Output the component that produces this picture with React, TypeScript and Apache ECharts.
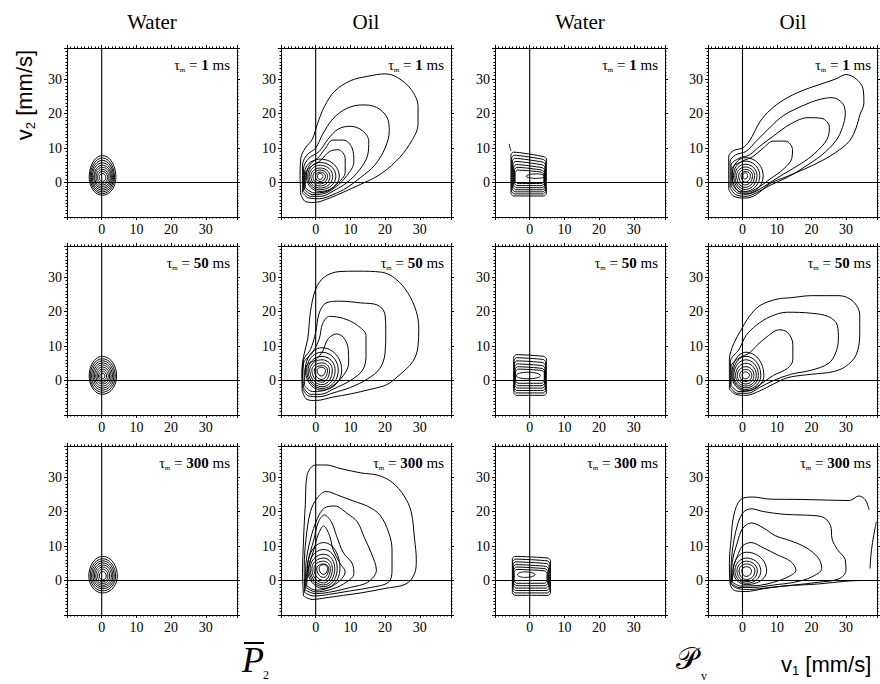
import React, { useEffect, useRef } from 'react';
import * as echarts from 'echarts';

type Pt = [number, number];
// ring: [cx, cy, xmin, xmax, ymin, ymax]
type Ring = [number, number, number, number, number, number];
// box: [xLeft, xRight, yBottom, yTopLeft, yTopRight]
type Box = [number, number, number, number, number];

const columnTitles = ['Water', 'Oil', 'Water', 'Oil'];
const mixingTimes = ['1', '50', '300'];
const tickValues = [0, 10, 20, 30];
const axisMin = -10;
const axisMax = 39;

// ---------- column 1 : water, P2 ----------
const waterP2Rings1: Ring[] = [
  [0.2, 1.5, -3.6, 4.1, -3.7, 7.8], [0.2, 1.5, -3.3, 3.7, -3.2, 7.1], [0.2, 1.5, -3.0, 3.4, -2.7, 6.4],
  [0.2, 1.5, -2.7, 3.1, -2.2, 5.7], [0.2, 1.5, -2.3, 2.8, -1.7, 5.0], [0.2, 1.5, -2.0, 2.5, -1.2, 4.4],
  [0.2, 1.5, -1.6, 2.1, -0.7, 3.8], [0.2, 1.5, -1.2, 1.7, -0.2, 3.2], [0.2, 1.4, -0.7, 1.2, 0.3, 2.6],
];
const waterP2Rings50: Ring[] = [
  [0.2, 1.3, -3.6, 4.3, -4.0, 7.0], [0.2, 1.3, -3.3, 3.9, -3.4, 6.3], [0.2, 1.3, -2.9, 3.5, -2.8, 5.7],
  [0.2, 1.3, -2.5, 3.1, -2.2, 5.1], [0.2, 1.3, -2.1, 2.7, -1.6, 4.5], [0.2, 1.3, -1.7, 2.3, -1.0, 3.9],
  [0.2, 1.3, -1.3, 1.9, -0.5, 3.3], [0.2, 1.3, -0.9, 1.4, 0.0, 2.7], [0.2, 1.3, -0.5, 0.9, 0.5, 2.1],
];
const waterP2Rings300: Ring[] = [
  [0.3, 1.3, -3.7, 4.5, -3.6, 7.0], [0.3, 1.3, -3.3, 4.0, -3.0, 6.3], [0.3, 1.3, -2.9, 3.6, -2.4, 5.7],
  [0.3, 1.3, -2.5, 3.2, -1.9, 5.1], [0.3, 1.3, -2.1, 2.8, -1.4, 4.5], [0.3, 1.3, -1.7, 2.3, -0.9, 3.9],
  [0.3, 1.3, -1.2, 1.8, -0.4, 3.3], [0.3, 1.3, -0.7, 1.3, 0.2, 2.6],
];

// ---------- column 2 : oil, P2 ----------
const oilP2Contours1: Pt[][] = [
  [[-4.3, -3.5], [-3, -5.5], [-0.5, -5.8], [4, -4.5], [8, -2.8], [13, -0.5], [18, 2], [23, 6], [27, 11], [29.5, 17], [29.5, 22], [27.5, 27], [23.5, 30.5], [20, 31.5], [15, 30.8], [10, 29.5], [5.5, 26.5], [2.5, 22], [0.5, 17], [-1, 12.5], [-3, 10], [-4.3, 7], [-4.5, 2]],
  [[-3.8, -3], [-2, -4.5], [1, -4.7], [5, -3.5], [9, -1.5], [13, 1.5], [17, 5], [20, 10], [21.2, 15], [20.5, 19], [17.5, 21.8], [13.5, 22.5], [9, 21.5], [5, 18.5], [2, 14], [0, 10], [-2.5, 8], [-3.8, 5]],
  [[-3.5, -2.5], [-1.5, -4], [1.5, -4], [5, -2.5], [9, 0], [12.5, 3.5], [15, 8], [15.3, 12], [13.5, 15], [10, 16.3], [6.5, 15.5], [3.5, 12.5], [1, 9], [-2, 7], [-3.5, 4]],
  [[-3.2, -2], [-1, -3.5], [2, -3.3], [5.5, -1.5], [9, 2], [11, 6], [10.5, 10], [8, 12.3], [5, 12.3], [2.5, 9.5], [0.5, 7], [-2, 5.5], [-3.2, 3]],
  [[-3, -1.5], [-0.5, -3], [2.5, -2.8], [6, -0.5], [8.5, 3], [8.5, 7], [6.5, 9.5], [4, 9], [1.5, 6.5], [-1.5, 4.5], [-3, 2.5]],
];
const oilP2Rings1: Ring[] = [
  [1.3, 1.8, -2.7, 6.8, -2.6, 6.8], [1.3, 1.8, -2.3, 5.8, -2.1, 5.8], [1.3, 1.8, -1.9, 4.9, -1.6, 5.0],
  [1.3, 1.8, -1.4, 4.1, -1.0, 4.2], [1.3, 1.8, -0.8, 3.4, -0.4, 3.6], [1.3, 1.8, -0.1, 2.8, 0.3, 3.0],
  [1.2, 1.8, 0.5, 2.1, 0.9, 2.6],
];
const oilP2Contours50: Pt[][] = [
  [[-3.9, -3], [-2.5, -5.5], [0, -5.8], [5, -4.8], [10, -3.9], [16, -2.5], [20.5, -1.2], [24, 1.5], [28, 5.5], [29.5, 10], [29.7, 15], [29, 20], [26.5, 25.5], [23, 29.5], [19, 31.4], [12, 31.7], [7, 31.6], [2.5, 30], [0, 26.5], [-1.5, 20], [-2.3, 12], [-3.5, 7], [-4, 2]],
  [[-3.7, -2.5], [-2, -4.5], [1, -4.7], [5, -3.6], [10, -2], [15, 0.5], [18.5, 3.5], [20, 8], [20.2, 14], [20, 19], [18, 21.8], [13, 22.5], [7, 23], [3, 22.5], [1, 19.5], [0, 14], [-1.5, 9], [-3.5, 6], [-3.8, 2]],
  [[-3.5, -2], [-1.5, -4], [1.5, -4], [5, -2.5], [10, 0], [13.5, 3], [14.5, 7], [14.5, 13], [12, 16], [8, 18], [4, 18.6], [2, 16.5], [1, 12], [-1, 8], [-3.5, 5], [-3.7, 1]],
  [[-3.2, -1.5], [-1, -3.2], [2, -3], [5, -1.5], [8, 1.5], [9.5, 5], [9.4, 9], [8, 12.5], [6, 13.5], [3.5, 12], [2, 8.5], [0, 6], [-2.5, 4.5], [-3.2, 2]],
];
const oilP2Rings50: Ring[] = [
  [1.8, 3, -3.0, 7.5, -2.8, 9.5], [1.8, 3, -2.6, 6.5, -2.3, 8.2], [1.8, 3, -2.2, 5.6, -1.8, 7.0],
  [1.8, 3, -1.7, 4.8, -1.2, 6.0], [1.8, 3, -1.1, 4.0, -0.5, 5.1], [1.8, 3, -0.4, 3.4, 0.3, 4.3],
  [1.7, 3, 0.4, 2.8, 1.3, 3.8],
];
const oilP2Contours300: Pt[][] = [
  [[-3.5, -4.5], [-1, -5.5], [3, -5], [8, -4.3], [13, -3.6], [20, -2.3], [26, -1], [28.5, 2], [29, 6], [28.5, 12], [27.5, 20], [25.5, 24.5], [22, 28.5], [18, 30.5], [13, 31.2], [7, 32.5], [3, 33.5], [0, 33.5], [-2.5, 30.5], [-3, 22], [-3.5, 12], [-3.8, 2]],
  [[-3.2, -3.5], [-0.5, -4.5], [4, -4], [10, -3], [16, -2], [21, -0.5], [22, 3], [22, 9], [21, 14], [18.5, 19], [15, 21.5], [11, 23], [7, 24.5], [3, 25.8], [0.5, 24], [-1.5, 20], [-2.8, 12], [-3.3, 4]],
  [[-3, -2.8], [0, -3.8], [5, -3.2], [10, -2], [15, -0.5], [17.5, 3], [16, 8], [14, 12.5], [12, 17], [9, 19.5], [5.5, 21.6], [2.5, 21], [0.5, 18], [-1.5, 12], [-2.8, 5]],
  [[-2.8, -2], [0, -3.3], [4, -2.7], [8, -1], [11, 2], [10.5, 5], [8, 8], [6, 13], [4.5, 17], [2.5, 19], [0.8, 17], [-0.5, 12], [-2.3, 5]],
  [[-2.6, -1.5], [0, -2.8], [3.5, -2.2], [7, 0], [8.5, 2.5], [7, 5], [5, 9], [4, 13], [2.3, 15.8], [0.8, 13.5], [-0.5, 9], [-2, 4]],
];
const oilP2Rings300: Ring[] = [
  [2.3, 3.5, -2.4, 7.0, -2.3, 11.0], [2.3, 3.5, -2.0, 6.2, -1.8, 9.0], [2.3, 3.5, -1.6, 5.5, -1.3, 7.6],
  [2.3, 3.5, -1.1, 4.8, -0.7, 6.5], [2.3, 3.5, -0.5, 4.2, 0.0, 5.6], [2.3, 3.5, 0.3, 3.7, 0.9, 4.8],
  [2.3, 3.5, 1.0, 3.4, 1.8, 4.6],
];

// ---------- column 3 : water, Pv ----------
const waterPvBoxes1: Box[] = [
  [-5.4, 4.8, -3.9, 8.8, 7.5], [-5.2, 4.6, -3.3, 7.9, 6.7], [-5.0, 4.5, -2.7, 7.0, 5.9],
  [-4.8, 4.4, -2.1, 6.1, 5.1], [-4.6, 4.3, -1.5, 5.2, 4.3], [-4.4, 4.2, -0.9, 4.4, 3.6],
  [-4.2, 4.1, -0.3, 3.6, 3.0],
];
const waterPvRings1: Ring[] = [[2.0, 1.8, -1.0, 4.3, 1.2, 2.5]];
const waterPvHook1: Pt[] = [[-5.9, 11.2], [-5.7, 10.2], [-5.4, 9.2]];
const waterPvBoxes50: Box[] = [
  [-4.6, 4.8, -4.3, 7.5, 7.0], [-4.5, 4.6, -3.6, 6.6, 6.1], [-4.4, 4.5, -2.9, 5.7, 5.2],
  [-4.3, 4.4, -2.2, 4.8, 4.3], [-4.2, 4.3, -1.5, 4.0, 3.5], [-4.1, 4.2, -0.8, 3.3, 2.9],
];
const waterPvRings50: Ring[] = [[-0.5, 1.4, -3.9, 3.1, 0.5, 2.4]];
const waterPvBoxes300: Box[] = [
  [-5.0, 6.0, -4.3, 7.0, 6.5], [-4.9, 5.8, -3.6, 6.2, 5.7], [-4.8, 5.6, -2.9, 5.4, 4.9],
  [-4.7, 5.4, -2.2, 4.6, 4.1], [-4.6, 5.2, -1.5, 3.9, 3.4], [-4.5, 5.0, -0.8, 3.2, 2.8],
];
const waterPvRings300: Ring[] = [[-1.5, 1.7, -3.5, 1.5, 0.9, 2.5]];

// ---------- column 4 : oil, Pv ----------
const oilPvContours1: Pt[][] = [
  [[-4, -2], [-2.5, -4], [1, -4.5], [4, -3.5], [8, -0.3], [13, 1.8], [18, 3.9], [23, 6.3], [27, 8.7], [31, 12], [33, 16], [34, 19.5], [35.2, 23], [35, 27], [33, 30], [30, 31.3], [27, 30], [22, 28.3], [17, 26.5], [12, 24], [8, 21], [5, 17.5], [2, 12], [0, 10], [-2.5, 9.3], [-4, 7.5]],
  [[-3.6, -1.5], [-2, -3.5], [1, -4], [4, -3], [8, -0.8], [13, 1.5], [18, 4.5], [23, 8], [27, 12], [29, 16], [29.8, 20], [29, 23], [26, 24.6], [22, 24], [18, 22.5], [12, 19.5], [8, 16], [4, 12], [1, 9], [-2, 8], [-3.6, 6]],
  [[-3.3, -1], [-1.5, -3], [1, -3.4], [4, -2.5], [8, 0], [12, 2.5], [17, 5.5], [21, 8.5], [24.5, 12.5], [25.2, 16], [23, 18.6], [19, 18.8], [14, 17], [9, 13.5], [5, 10.5], [2, 8], [-1, 7], [-3.3, 5]],
  [[-3, -0.5], [-1, -2.6], [1.5, -2.8], [4.5, -1.5], [8, 1], [12, 4], [14.3, 7], [14.5, 9.5], [12.5, 12], [9, 12], [6, 10], [3, 7.5], [0, 6.2], [-3, 4]],
];
const oilPvRings1: Ring[] = [
  [0.8, 2, -3.0, 6.0, -3.3, 7.2], [0.8, 2, -2.6, 5.0, -2.6, 6.2], [0.8, 2, -2.2, 4.2, -2.0, 5.3],
  [0.8, 2, -1.7, 3.5, -1.4, 4.5], [0.8, 2, -1.1, 2.9, -0.7, 3.8], [0.8, 2, -0.4, 2.3, 0.1, 3.2],
  [0.7, 2, 0.1, 1.5, 1.0, 2.8],
];
const oilPvContours50: Pt[][] = [
  [[-3.8, -2.5], [-2, -4], [1, -4.3], [5, -3], [9, -1], [13, 0.8], [18, 1.6], [22, 2], [26, 2.5], [29.8, 4], [33, 7.5], [34, 14], [34, 19], [32, 23], [28, 24.6], [20, 24.6], [14, 24], [10, 23.6], [5, 21.7], [2, 18.6], [-0.5, 14.5], [-2.5, 10.8], [-3.8, 6]],
  [[-3.5, -2], [-1.5, -3.7], [1.5, -3.7], [5, -2], [9, 0], [14, 1.8], [20, 3], [25, 5], [27, 8], [27.8, 12], [27.5, 16], [25, 18.5], [20, 19.5], [13, 19.8], [8, 18.5], [4, 16], [1, 13], [-1, 9], [-3.5, 5.5]],
  [[-3.3, -1.5], [-1, -3.2], [2, -3], [5, -1.2], [9, 1.5], [13, 3.5], [14.6, 6], [14.6, 10.5], [13, 14], [10.5, 14.7], [7.5, 13], [4.5, 10.5], [2, 8], [-1, 6.5], [-3.3, 4]],
];
const oilPvRings50: Ring[] = [
  [1, 1.5, -3.1, 6.2, -3.0, 8.2], [1, 1.5, -2.8, 5.3, -2.6, 7.0], [1, 1.5, -2.5, 4.6, -2.1, 6.0],
  [1, 1.5, -2.0, 4.0, -1.6, 5.0], [1, 1.5, -1.5, 3.3, -1.0, 4.0], [1, 1.5, -0.8, 2.7, -0.3, 3.2],
  [0.8, 1.5, -0.1, 2.0, 0.5, 2.5],
];
const oilPvOpen300: Pt[][] = [
  [[36.7, 20.5], [35.6, 23.4], [33.7, 24.5], [31, 23.2], [25, 23.3], [17, 23.5], [8, 23.6], [3, 24.2], [-0.5, 23.5], [-2.5, 19], [-3.3, 12], [-3.8, 5], [-3.6, -1], [-2, -3], [1, -3.2], [6, -2.4], [12, -1.6], [22, -1], [30, -0.2], [34, 0]],
  [[37, 3.5], [37.2, 7], [37.7, 11], [38.4, 15], [38.8, 17]],
];
const oilPvContours300: Pt[][] = [
  [[-3.4, -1], [-1.5, -2.3], [2, -2.6], [8, -2], [15, -1.3], [22, -0.5], [28, 0.5], [30, 3], [29.8, 6], [27.5, 9], [26, 12], [25.5, 16], [23, 18.5], [17, 19], [12, 19.2], [6, 20], [2.5, 20.8], [0, 19.5], [-2, 14], [-3.2, 6]],
  [[-3.2, -0.8], [-1, -2], [3, -2], [9, -1.3], [15, -0.5], [20, 1], [23, 3.5], [22, 6.5], [18.5, 9.5], [14, 11.5], [9.5, 13], [6, 15.3], [2.5, 16.7], [0, 15], [-1.5, 11], [-3, 5]],
  [[-2.9, -0.5], [-0.5, -1.6], [4, -1.5], [9, -0.5], [13.5, 1.2], [15.5, 3], [14, 5.5], [10, 7.5], [6, 9.5], [2.5, 11], [0, 10], [-1.5, 7], [-2.7, 3.5]],
];
const oilPvRings300: Ring[] = [
  [1.2, 2.8, -2.7, 7.0, -1.2, 8.2], [1.2, 2.8, -2.2, 5.3, -0.8, 6.5], [1.2, 2.8, -1.6, 4.3, -0.3, 5.6],
  [1.2, 2.8, -1.0, 3.6, 0.3, 4.8], [1.1, 2.8, -0.2, 2.6, 1.2, 4.0],
];

// ---------- layout ----------
const colLeft = [67, 281, 495, 708];
const rowTop = [48, 246, 446];
const PW = 170;
const PH = 169;
const SERIF = "'Liberation Serif', 'Times New Roman', serif";
const SANS = "'Liberation Sans', Arial, sans-serif";

interface Panel {
  closed: Pt[][];
  open: Pt[][];
  rings: Ring[];
  boxes: Box[];
}

const panelGrid: Panel[][] = [
  [
    { closed: [], open: [], rings: waterP2Rings1, boxes: [] },
    { closed: oilP2Contours1, open: [], rings: oilP2Rings1, boxes: [] },
    { closed: [], open: [waterPvHook1], rings: waterPvRings1, boxes: waterPvBoxes1 },
    { closed: oilPvContours1, open: [], rings: oilPvRings1, boxes: [] },
  ],
  [
    { closed: [], open: [], rings: waterP2Rings50, boxes: [] },
    { closed: oilP2Contours50, open: [], rings: oilP2Rings50, boxes: [] },
    { closed: [], open: [], rings: waterPvRings50, boxes: waterPvBoxes50 },
    { closed: oilPvContours50, open: [], rings: oilPvRings50, boxes: [] },
  ],
  [
    { closed: [], open: [], rings: waterP2Rings300, boxes: [] },
    { closed: oilP2Contours300, open: [], rings: oilP2Rings300, boxes: [] },
    { closed: [], open: [], rings: waterPvRings300, boxes: waterPvBoxes300 },
    { closed: oilPvContours300, open: oilPvOpen300, rings: oilPvRings300, boxes: [] },
  ],
];

function ringPoints(r: Ring): Pt[] {
  const [cx, cy, x0, x1, y0, y1] = r;
  const pts: Pt[] = [];
  const n = 48;
  for (let k = 0; k <= n; k++) {
    const a = (k / n) * Math.PI * 2;
    const c = Math.cos(a);
    const s = Math.sin(a);
    pts.push([cx + c * (c >= 0 ? x1 - cx : cx - x0), cy + s * (s >= 0 ? y1 - cy : cy - y0)]);
  }
  return pts;
}

function boxPoints(b: Box): Pt[] {
  const [xl, xr, yb, ytl, ytr] = b;
  const r = 0.7;
  return [
    [xl, yb + r], [xl + r, yb], [xr - r, yb], [xr, yb + r], [xr, ytr - r], [xr - r, ytr],
    [xl + r, ytl], [xl, ytl - r], [xl, yb + r],
  ];
}

function close(p: Pt[]): Pt[] {
  return [...p, p[0]];
}

function buildOption() {
  const grid: any[] = [];
  const xAxis: any[] = [];
  const yAxis: any[] = [];
  const series: any[] = [];
  const graphic: any[] = [];

  const labelFmt = (v: number) => (tickValues.includes(v) ? String(v) : '');
  const tickCommon = {
    axisTick: { show: true, length: 3, lineStyle: { color: '#000', width: 1 } },
    minorTick: { show: true, splitNumber: 10, length: 1.5, lineStyle: { color: '#000', width: 1 } },
    splitLine: { show: false },
    axisLine: { show: true, onZero: false, lineStyle: { color: '#000', width: 1 } },
  };
  const labelStyle = { formatter: labelFmt, fontFamily: SERIF, fontSize: 14, fontWeight: 'normal', color: '#000', margin: 5 };

  let gi = 0;
  for (let r = 0; r < 3; r++) {
    for (let c = 0; c < 4; c++) {
      grid.push({ left: colLeft[c], top: rowTop[r], width: PW, height: PH, containLabel: false });
      xAxis.push({
        gridIndex: gi, type: 'value', position: 'bottom', min: axisMin, max: axisMax, interval: 10,
        ...tickCommon, axisLabel: labelStyle,
      });
      xAxis.push({
        gridIndex: gi, type: 'value', position: 'top', min: axisMin, max: axisMax, interval: 10,
        ...tickCommon, axisLabel: { show: false },
      });
      yAxis.push({
        gridIndex: gi, type: 'value', position: 'left', min: axisMin, max: axisMax, interval: 10,
        ...tickCommon, axisLabel: labelStyle,
      });
      yAxis.push({
        gridIndex: gi, type: 'value', position: 'right', min: axisMin, max: axisMax, interval: 10,
        ...tickCommon, axisLabel: { show: false },
      });

      const base = {
        type: 'line', xAxisIndex: gi * 2, yAxisIndex: gi * 2, showSymbol: false, symbol: 'none',
        silent: true, animation: false,
      };
      // zero cross lines
      series.push({ ...base, data: [[0, axisMin], [0, axisMax]], lineStyle: { color: '#000', width: 1.1 } });
      series.push({ ...base, data: [[axisMin, 0], [axisMax, 0]], lineStyle: { color: '#000', width: 1.1 } });

      const p = panelGrid[r][c];
      p.closed.forEach((pts) =>
        series.push({ ...base, smooth: 0.35, data: close(pts), lineStyle: { color: '#000', width: 1 } })
      );
      p.open.forEach((pts) =>
        series.push({ ...base, smooth: 0.35, data: pts, lineStyle: { color: '#000', width: 1 } })
      );
      p.rings.forEach((rg) =>
        series.push({ ...base, data: ringPoints(rg), lineStyle: { color: '#000', width: 1 } })
      );
      p.boxes.forEach((b) =>
        series.push({ ...base, smooth: 0.2, data: boxPoints(b), lineStyle: { color: '#000', width: 1 } })
      );

      // tau label
      graphic.push({
        type: 'text',
        x: colLeft[c] + PW - 7,
        y: rowTop[r] + 17,
        style: {
          text: `{t|τ}{s|m}{e| = }{b|${mixingTimes[r]}}{e| ms}`,
          align: 'right',
          verticalAlign: 'middle',
          fill: '#000',
          rich: {
            t: { fontFamily: SERIF, fontSize: 14, fill: '#000' },
            s: { fontFamily: SERIF, fontSize: 7, fill: '#000', padding: [10, 0, 0, 0] },
            e: { fontFamily: SERIF, fontSize: 15, fill: '#000' },
            b: { fontFamily: SERIF, fontSize: 15, fontWeight: 'bold', fill: '#000' },
          },
        },
      });
      gi++;
    }
  }

  // carrier grid for the vertical axis title: its axis spans y 50..140, title centred on it
  grid.push({ left: 45, top: 50, width: 1, height: 90, containLabel: false });
  xAxis.push({ gridIndex: 12, type: 'value', show: false, min: 0, max: 1 });
  yAxis.push({
    gridIndex: 12, type: 'value', position: 'left', min: 0, max: 1,
    axisLine: { show: false }, axisTick: { show: false }, axisLabel: { show: false }, splitLine: { show: false },
    name: '{a|v}{s|2}{a| [mm/s]}',
    nameLocation: 'middle',
    nameRotate: 90,
    nameGap: 8,
    nameTextStyle: {
      color: '#000',
      rich: {
        a: { fontFamily: SANS, fontSize: 22, color: '#000' },
        s: { fontFamily: SANS, fontSize: 13, color: '#000', padding: [12, 0, 0, 0] },
      },
    },
  });

  columnTitles.forEach((t, c) => {
    graphic.push({
      type: 'text', x: colLeft[c] + PW / 2, y: 22,
      style: { text: t, fontFamily: SERIF, fontSize: 21, fontWeight: 'normal', fill: '#000', align: 'center', verticalAlign: 'middle' },
    });
  });

  // x-axis title
  graphic.push({
    type: 'text', x: 781, y: 664,
    style: {
      text: '{a|v}{s|1}{a| [mm/s]}',
      align: 'left', verticalAlign: 'middle', fill: '#000',
      rich: {
        a: { fontFamily: SANS, fontSize: 22, fill: '#000' },
        s: { fontFamily: SANS, fontSize: 13, fill: '#000', padding: [12, 0, 0, 0] },
      },
    },
  });
  // P-bar 2
  graphic.push({
    type: 'text', x: 242, y: 660,
    style: { text: 'P', fontFamily: SERIF, fontStyle: 'italic', fontSize: 36, fill: '#000', align: 'left', verticalAlign: 'middle' },
  });
  graphic.push({ type: 'line', shape: { x1: 244, y1: 643, x2: 264, y2: 643 }, style: { stroke: '#000', lineWidth: 2 } });
  graphic.push({
    type: 'text', x: 263, y: 675,
    style: { text: '2', fontFamily: SERIF, fontSize: 12, fill: '#000', align: 'left', verticalAlign: 'middle' },
  });
  // script P_v
  graphic.push({
    type: 'text', x: 676, y: 658,
    style: { text: '𝒫', fontFamily: 'DejaVu Serif, DejaVu Sans, serif', fontSize: 30, fill: '#000', align: 'left', verticalAlign: 'middle' },
  });
  graphic.push({
    type: 'text', x: 701, y: 676,
    style: { text: 'v', fontFamily: SERIF, fontSize: 12, fill: '#000', align: 'left', verticalAlign: 'middle' },
  });

  return {
    animation: false,
    backgroundColor: '#fff',
    grid, xAxis, yAxis, series, graphic,
  };
}

export default function App() {
  const ref = useRef<HTMLDivElement>(null);
  useEffect(() => {
    if (!ref.current) return;
    const chart = echarts.init(ref.current, undefined, { renderer: 'svg' });
    chart.setOption(buildOption() as any);
    return () => chart.dispose();
  }, []);
  return (
    <div
      ref={ref}
      style={{ position: 'fixed', left: 0, top: 0, width: 880, height: 684, background: '#fff' }}
    />
  );
}
